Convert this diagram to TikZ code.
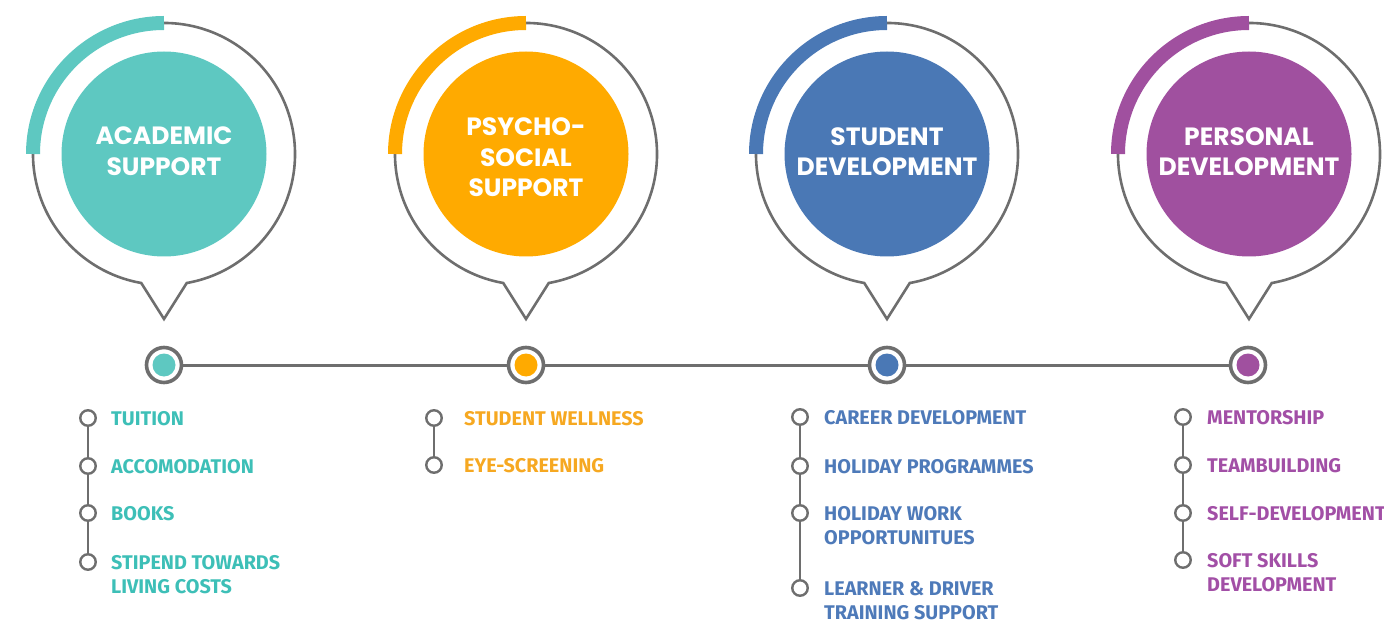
\documentclass[tikz,border=0pt]{standalone}
\usepackage{fontspec}
\setmainfont{Poppins}
\newfontfamily\listfont{Fira Sans}
\begin{document}
\begin{tikzpicture}[x=1pt,y=1pt,
  bubbleline/.style={draw=lineC, line width=2.6pt, line join=miter},
  ribbon/.style={line width=14pt, draw=#1},
  disc/.style={circle, minimum size=205pt, inner sep=0pt, fill=#1},
  title/.style={text=white, align=center, inner sep=0pt,
    font=\fontsize{25}{30.5}\selectfont\bfseries},
  ring/.style={circle, draw=lineC, line width=3.6pt, fill=white,
    minimum size=35pt, inner sep=0pt},
  dot/.style={circle, fill=#1, minimum size=23pt, inner sep=0pt},
  bullet/.style={circle, draw=lineC, line width=2.4pt, fill=white,
    minimum size=15.5pt, inner sep=0pt},
  item/.style={anchor=north west, inner sep=0pt, align=left, text=#1,
    font=\listfont\bfseries\fontsize{19.8}{24.5}\selectfont},
  link/.style={draw=lineC, line width=2.6pt},
  axis/.style={draw=lineC, line width=3pt}
]
\definecolor{lineC}{HTML}{6E6E6E}
\definecolor{acadC}{HTML}{5EC8C1}
\definecolor{psyC}{HTML}{FFAA00}
\definecolor{studC}{HTML}{4A78B5}
\definecolor{persC}{HTML}{A0509F}
\definecolor{acadT}{HTML}{3DBFB7}
\definecolor{psyT}{HTML}{F6A821}
\definecolor{studT}{HTML}{4E7AB9}
\definecolor{persT}{HTML}{A24FA6}

\useasboundingbox (0,0) rectangle (1384,-620);

% speech bubbles: outline with tail, coloured quarter ribbon, filled disc
\foreach \cx/\col in {164/acadC, 526/psyC, 887/studC, 1249/persC}{
  \draw[bubbleline] ([shift={(\cx,-154)}]-80:131)
    arc[start angle=-80, end angle=260, radius=131]
    -- (\cx,-319) -- cycle;
  \draw[ribbon=\col] ([shift={(\cx,-154)}]180:131)
    arc[start angle=180, end angle=90, radius=131];
}
\node[disc=acadC] (b1) at (164,-154) {};
\node[disc=psyC]  (b2) at (526,-154) {};
\node[disc=studC] (b3) at (887,-154) {};
\node[disc=persC] (b4) at (1249,-154) {};

\node[title] (h1) at (164,-151) {ACADEMIC\\SUPPORT};
\node[title] (h2) at (526,-157.5) {PSYCHO-\\SOCIAL\\SUPPORT};
\node[title] (h3) at (887,-151.5) {STUDENT\\DEVELOPMENT};
\node[title] (h4) at (1249,-151.5) {PERSONAL\\DEVELOPMENT};

% timeline
\node[ring] (t1) at (164,-365) {};
\node[ring] (t2) at (526,-365) {};
\node[ring] (t3) at (887,-365) {};
\node[ring] (t4) at (1248,-365) {};
\node[dot=acadC] (d1) at (t1) {};
\node[dot=psyC]  (d2) at (t2) {};
\node[dot=studC] (d3) at (t3) {};
\node[dot=persC] (d4) at (t4) {};
\draw[axis] (t1.east) -- (t2.west);
\draw[axis] (t2.east) -- (t3.west);
\draw[axis] (t3.east) -- (t4.west);

% academic support items
\node[bullet] (a1) at (88,-418) {};
\node[bullet] (a2) at (88,-466) {};
\node[bullet] (a3) at (88,-513) {};
\node[bullet] (a4) at (88,-562) {};
\draw[link] (a1) -- (a2); \draw[link] (a2) -- (a3); \draw[link] (a3) -- (a4);
\node[item=acadT] (la1) at (111,-411.2) {TUITION};
\node[item=acadT] (la2) at (111,-459.2) {ACCOMODATION};
\node[item=acadT] (la3) at (111,-506.2) {BOOKS};
\node[item=acadT] (la4) at (111,-555.2) {STIPEND TOWARDS\\LIVING COSTS};

% psycho-social support items
\node[bullet] (p1) at (434,-418) {};
\node[bullet] (p2) at (434,-465) {};
\draw[link] (p1) -- (p2);
\node[item=psyT] (lp1) at (464,-411.2) {STUDENT WELLNESS};
\node[item=psyT] (lp2) at (464,-458.2) {EYE-SCREENING};

% student development items
\node[bullet] (s1) at (800,-417) {};
\node[bullet] (s2) at (800,-466) {};
\node[bullet] (s3) at (800,-513) {};
\node[bullet] (s4) at (800,-588) {};
\draw[link] (s1) -- (s2); \draw[link] (s2) -- (s3); \draw[link] (s3) -- (s4);
\node[item=studT] (ls1) at (824,-410.2) {CAREER DEVELOPMENT};
\node[item=studT] (ls2) at (824,-459.2) {HOLIDAY PROGRAMMES};
\node[item=studT] (ls3) at (824,-506.2) {HOLIDAY WORK\\OPPORTUNITUES};
\node[item=studT] (ls4) at (824,-581.2) {LEARNER \& DRIVER\\TRAINING SUPPORT};

% personal development items
\node[bullet] (q1) at (1183,-417) {};
\node[bullet] (q2) at (1183,-465) {};
\node[bullet] (q3) at (1183,-513) {};
\node[bullet] (q4) at (1183,-560) {};
\draw[link] (q1) -- (q2); \draw[link] (q2) -- (q3); \draw[link] (q3) -- (q4);
\node[item=persT] (lq1) at (1207,-410.2) {MENTORSHIP};
\node[item=persT] (lq2) at (1207,-458.2) {TEAMBUILDING};
\node[item=persT] (lq3) at (1207,-506.2) {SELF-DEVELOPMENT};
\node[item=persT] (lq4) at (1207,-553.2) {SOFT SKILLS\\DEVELOPMENT};
\end{tikzpicture}
\end{document}
